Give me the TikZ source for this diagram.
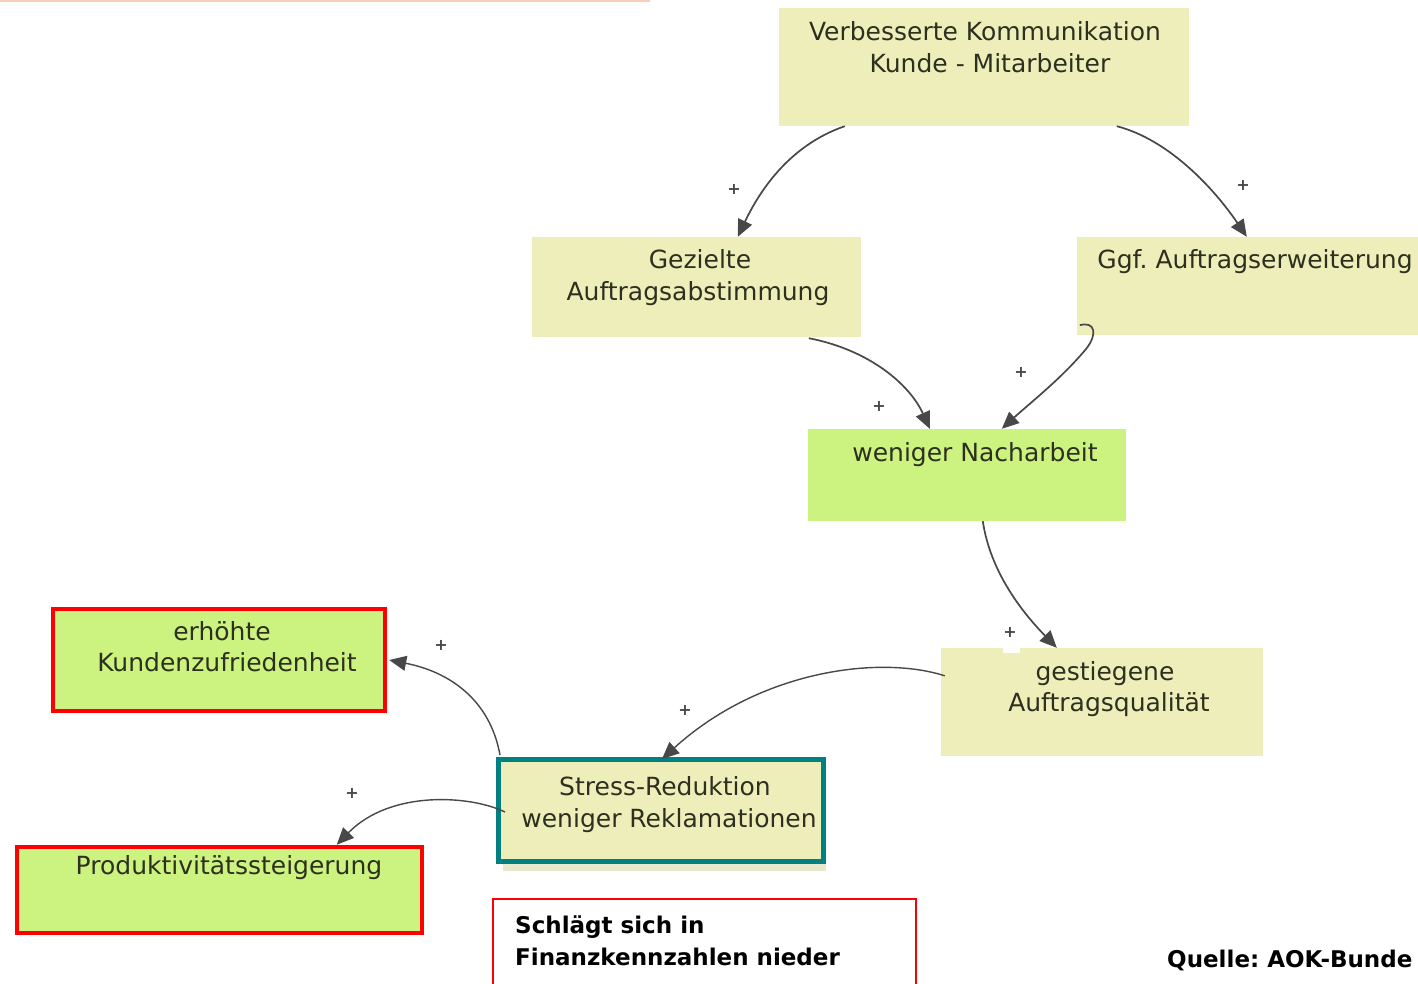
\documentclass[tikz,border=0pt]{standalone}
\usepackage{fontspec}
\setmainfont{DejaVu Sans}
\usetikzlibrary{arrows.meta,calc}
\frenchspacing
\definecolor{beige}{RGB}{238,238,187}
\definecolor{lgreen}{RGB}{204,242,128}
\definecolor{boxtext}{RGB}{45,48,30}
\definecolor{arrowgray}{RGB}{72,72,72}
\definecolor{tealb}{RGB}{0,128,128}
\definecolor{redb}{RGB}{255,0,0}
\definecolor{topline}{RGB}{250,205,185}
\definecolor{shadowc}{RGB}{232,232,205}
\begin{document}
\frenchspacing
\begin{tikzpicture}[x=1pt,y=-1pt,
  box/.style={rectangle, inner sep=0pt},
  beigebox/.style={box, fill=beige},
  greenbox/.style={box, fill=lgreen},
  txt/.style={anchor=base, inner sep=0pt, text=boxtext, font=\fontsize{25}{30}\selectfont},
  btxt/.style={anchor=base west, inner sep=0pt, text=black, font=\bfseries\fontsize{23}{28}\selectfont},
  plussign/.style={inner sep=0pt, text=arrowgray, font=\bfseries\fontsize{16}{16}\selectfont},
  link/.style={draw=arrowgray, line width=1.7pt, -{Triangle[length=17pt,width=15pt]}},
]
\clip (0,0) rectangle (1418,983);
\fill[white] (0,0) rectangle (1418,983);
\draw[topline, line width=2pt] (0,1) -- (650,1);

% boxes
\node[beigebox, minimum width=410pt, minimum height=118pt] (A) at (984,67) {};
\node[beigebox, minimum width=329pt, minimum height=100pt] (B) at (696.5,287) {};
\node[beigebox, minimum width=353pt, minimum height=98pt] (C) at (1253.5,286) {};
\node[greenbox, minimum width=318pt, minimum height=92pt] (D) at (967,475) {};
\node[beigebox, minimum width=322pt, minimum height=108pt] (E) at (1102,702) {};
\node[greenbox, draw=redb, line width=4.5pt, minimum width=332pt, minimum height=102pt] (F) at (219,660) {};
\fill[shadowc] (503,862) rectangle (826,871);
\node[beigebox, draw=tealb, line width=5pt, minimum width=325pt, minimum height=102pt] (G) at (661,810.5) {};
\node[greenbox, draw=redb, line width=4.5pt, minimum width=405pt, minimum height=86pt] (H) at (219.5,890) {};
\node[box, fill=white, draw=redb, line width=1.5pt, minimum width=423pt, minimum height=91pt] (I) at (704.5,944.5) {};
\fill[white] (1003,646) rectangle (1020,653);

% texts
\node[txt] (A1) at (985,40) {Verbesserte Kommunikation};
\node[txt] (A2) at (990,72) {Kunde - Mitarbeiter};
\node[txt] (B1) at (700,268) {Gezielte};
\node[txt] (B2) at (698,300) {Auftragsabstimmung};
\node[txt] (C1) at (1255,268) {Ggf. Auftragserweiterung};
\node[txt] (D1) at (975,461) {weniger Nacharbeit};
\node[txt] (E1) at (1105,680) {gestiegene};
\node[txt] (E2) at (1109,711) {Auftragsqualität};
\node[txt] (F1) at (222,640) {erhöhte};
\node[txt] (F2) at (227,671) {Kundenzufriedenheit};
\node[txt] (G1) at (665,795) {Stress-Reduktion};
\node[txt] (G2) at (669,827) {weniger Reklamationen};
\node[txt] (H1) at (229,874) {Produktivitätssteigerung};
\node[btxt] (I1) at (515,933) {Schlägt sich in};
\node[btxt] (I2) at (515,965) {Finanzkennzahlen nieder};
\node[btxt] (Q) at (1167,967) {Quelle: AOK-Bunde};

% connectors
\draw[link] ($(A.south west)+(66,0)$) .. controls (790,145) and (760,190) .. ($(B.north west)+(206,0)$);
\draw[link] ($(A.south west)+(338,0)$) .. controls (1170,140) and (1215,190) .. ($(C.north west)+(170,0)$);
\draw[link] ($(B.south west)+(277,1)$) .. controls (870,350) and (910,385) .. ($(D.north west)+(122,0)$);
\draw[link] ($(C.south west)+(3,-10)$) .. controls (1095,321) and (1098,334) .. (1086,349) .. controls (1062,378) and (1030,403) .. ($(D.north west)+(194,0)$);
\draw[link] ($(D.south west)+(175,0)$) .. controls (990,570) and (1020,610) .. ($(E.north west)+(116,0)$);
\draw[link, line width=1.4pt] ($(E.north west)+(4,28)$) .. controls (880,655) and (760,670) .. ($(G.north west)+(166,2)$);
\draw[link, line width=1.4pt] ($(G.north west)+(4,-2)$) .. controls (490,700) and (450,672) .. ($(F.east)+(2,0)$);
\draw[link, line width=1.4pt] ($(G.west)+(9,1.5)$) .. controls (470,795) and (390,790) .. ($(H.north west)+(322,0)$);

% signs
\node[plussign] (p1) at (734,189) {+};
\node[plussign] (p2) at (1243,185) {+};
\node[plussign] (p3) at (879,406) {+};
\node[plussign] (p4) at (1021,372) {+};
\node[plussign] (p5) at (1010,632) {+};
\node[plussign] (p6) at (685,710) {+};
\node[plussign] (p7) at (441,645) {+};
\node[plussign] (p8) at (352,793) {+};
\end{tikzpicture}
\end{document}
